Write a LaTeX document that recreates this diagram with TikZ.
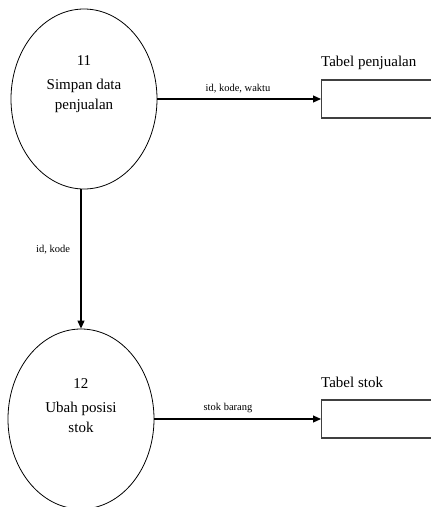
\documentclass[tikz,border=0pt]{standalone}
\usepackage{fontspec}
\setmainfont{Liberation Serif}
\usetikzlibrary{arrows.meta,shapes.geometric}
\begin{document}
\begin{tikzpicture}[x=1pt,y=-1pt,
  proc/.style={draw,ellipse,line width=0.8pt,minimum width=146pt,minimum height=180pt,inner sep=0pt},
  store/.style={draw=black!75,line width=1.3pt,minimum width=130pt,minimum height=38pt,anchor=west,inner sep=0pt},
  flow/.style={line width=1.1pt,-{Triangle[length=8pt,width=7pt]}},
  ptext/.style={align=center,font=\fontsize{15}{20}\selectfont},
  stitle/.style={anchor=base west,inner sep=0pt,font=\fontsize{15}{18}\selectfont},
  flabel/.style={anchor=base,inner sep=0pt,font=\fontsize{10.5}{12}\selectfont}]
\path[use as bounding box,clip] (0,0) rectangle (431,507);
\node[proc] (p11) at (84,99) {};
\node[ptext] (t11) at (84,84) {11\\[4pt]Simpan data\\penjualan};
\node[proc] (p12) at (81,419) {};
\node[ptext] (t12) at (81,406) {12\\[4pt]Ubah posisi\\stok};
\node[store] (s1) at (321,99) {};
\node[store] (s2) at (321,419) {};
\node[stitle] (l1) at (321,66) {Tabel penjualan};
\node[stitle] (l2) at (321,387) {Tabel stok};
\draw[flow] (p11.east) -- (s1.west);
\draw[flow] (p12.east) -- (s2.west);
\draw[flow] (p12.north |- p11.south) -- (p12.north);
\node[flabel] (f1) at (238,91) {id, kode, waktu};
\node[flabel] (f2) at (228,410) {stok barang};
\node[flabel] (f3) at (53,252) {id, kode};
\end{tikzpicture}
\end{document}
